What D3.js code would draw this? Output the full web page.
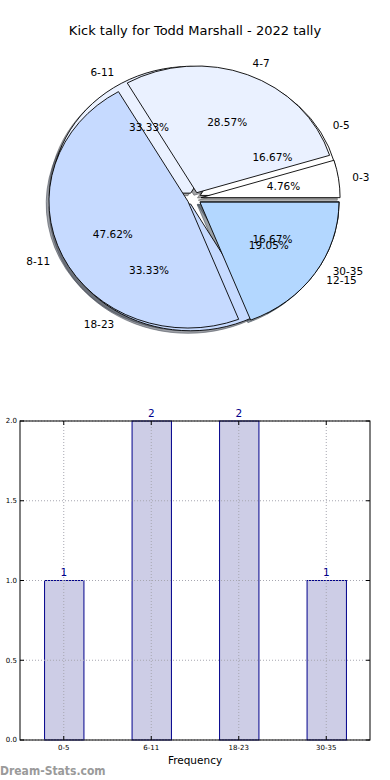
<!DOCTYPE html>
<html><head><meta charset="utf-8">
<script src="https://cdn.jsdelivr.net/npm/d3@7"></script>
<style>body{margin:0;background:#fff;} svg{display:block;font-family:"DejaVu Sans",sans-serif;}</style>
</head><body>
<script>
const title = "Kick tally for Todd Marshall - 2022 tally";
const pieCatsA = ["0-5", "6-11", "18-23", "30-35"];
const pieValsA = [1, 2, 2, 1];
const pieCatsB = ["0-3", "4-7", "8-11", "12-15"];
const pieValsB = [1, 6, 10, 4];
const pieColors = ["#ffffff", "#eaf1ff", "#c6daff", "#b3d7ff"];
const barCats = ["0-5", "6-11", "18-23", "30-35"];
const barVals = [1, 2, 2, 1];
const yTicks = [0, 0.5, 1.0, 1.5, 2.0];
const xLabel = "Frequency";
const watermark = "Dream-Stats.com";

const W = 390, H = 780;
const svg = d3.select("body").append("svg").attr("width", W).attr("height", H);
svg.append("rect").attr("width", W).attr("height", H).attr("fill", "#fff");

svg.append("text").attr("x", 195).attr("y", 34.5).attr("text-anchor", "middle")
  .attr("font-size", 13).attr("fill", "#000").text(title);

// ---------- pie (two overlaid pies, matplotlib style) ----------
const cx = 194.2, cy = 198.6, rx = 139, ry = 126.7, explode = 0.05, shadowOff = 0.02;
const pie = d3.pie().sort(null).startAngle(Math.PI / 2).endAngle(Math.PI / 2 - 2 * Math.PI);
const arc = d3.arc().innerRadius(0).outerRadius(1);

function prep(vals, cats) {
  const tot = d3.sum(vals);
  return pie(vals).map((d, i) => {
    const mid = (d.startAngle + d.endAngle) / 2;
    const phi = Math.PI / 2 - mid;
    return Object.assign({}, d, {
      cat: cats[i], color: pieColors[i % pieColors.length], phi,
      ox: explode * Math.cos(phi), oy: -explode * Math.sin(phi),
      pct: d.value / tot * 100
    });
  });
}
const A = prep(pieValsA, pieCatsA);
const B = prep(pieValsB, pieCatsB);
const gPie = svg.append("g");

function shadows(data) {
  gPie.selectAll(null).data(data).enter().append("path")
    .attr("d", arc)
    .attr("transform", d => `translate(${cx + (d.ox - shadowOff) * rx},${cy + (d.oy + shadowOff) * ry}) scale(${rx},${ry})`)
    .attr("fill", d => { const c = d3.rgb(d.color); return d3.rgb(c.r * 0.3, c.g * 0.3, c.b * 0.3); })
    .attr("stroke", d => { const c = d3.rgb(d.color); return d3.rgb(c.r * 0.3, c.g * 0.3, c.b * 0.3); })
    .attr("fill-opacity", 0.5).attr("stroke-opacity", 0.5)
    .attr("stroke-width", 1).attr("vector-effect", "non-scaling-stroke");
}
function wedges(data) {
  gPie.selectAll(null).data(data).enter().append("path")
    .attr("d", arc)
    .attr("transform", d => `translate(${cx + d.ox * rx},${cy + d.oy * ry}) scale(${rx},${ry})`)
    .attr("fill", d => d.color).attr("stroke", "#000")
    .attr("stroke-width", 0.9).attr("vector-effect", "non-scaling-stroke");
}
function labels(data) {
  gPie.selectAll(null).data(data).enter().append("text")
    .attr("x", d => cx + (d.ox + 1.1 * Math.cos(d.phi)) * rx)
    .attr("y", d => cy + (d.oy - 1.1 * Math.sin(d.phi)) * ry)
    .attr("dy", "0.35em")
    .attr("text-anchor", d => Math.cos(d.phi) > 0 ? "start" : "end")
    .attr("font-size", 10.5).attr("fill", "#000").text(d => d.cat);
  gPie.selectAll(null).data(data).enter().append("text")
    .attr("x", d => cx + (d.ox + 0.6 * Math.cos(d.phi)) * rx)
    .attr("y", d => cy + (d.oy - 0.6 * Math.sin(d.phi)) * ry)
    .attr("dy", "0.35em").attr("text-anchor", "middle")
    .attr("font-size", 10.5).attr("fill", "#000").text(d => d.pct.toFixed(2) + "%");
}
shadows(A); shadows(B);
wedges(A); wedges(B);
labels(A); labels(B);

// ---------- bar chart ----------
const bx0 = 20, bx1 = 370, by0 = 421, by1 = 740;
const x = d3.scaleBand().domain(barCats).range([bx0, bx1]).paddingInner(0.55).paddingOuter(0.275);
const y = d3.scaleLinear().domain([0, 2]).range([by1, by0]);
const gBar = svg.append("g");

// bars
gBar.selectAll(null).data(barVals).enter().append("rect")
  .attr("x", (d, i) => x(barCats[i]) + 0.5)
  .attr("y", d => y(d))
  .attr("width", x.bandwidth())
  .attr("height", d => y(0) - y(d))
  .attr("fill", "#cdcde6").attr("stroke", "#00008b").attr("stroke-width", 1);

// grid (drawn above bars, matplotlib style)
gBar.selectAll(null).data(barCats).enter().append("line")
  .attr("x1", d => x(d) + x.bandwidth() / 2).attr("x2", d => x(d) + x.bandwidth() / 2)
  .attr("y1", by0).attr("y2", by1)
  .attr("stroke", "#a6a6b0").attr("stroke-width", 1).attr("stroke-dasharray", "1,2");
gBar.selectAll(null).data(yTicks).enter().append("line")
  .attr("x1", bx0).attr("x2", bx1).attr("y1", d => y(d)).attr("y2", d => y(d))
  .attr("stroke", "#a6a6b0").attr("stroke-width", 1).attr("stroke-dasharray", "1,2");

// value labels
gBar.selectAll(null).data(barVals).enter().append("text")
  .attr("x", (d, i) => x(barCats[i]) + x.bandwidth() / 2)
  .attr("y", d => y(d) - 4.5)
  .attr("text-anchor", "middle").attr("font-size", 10.5).attr("fill", "#00008b")
  .text(d => d);

// frame
gBar.append("rect").attr("x", bx0).attr("y", by0).attr("width", bx1 - bx0).attr("height", by1 - by0)
  .attr("fill", "none").attr("stroke", "#000").attr("stroke-width", 1);

// ticks (inward, all sides)
const tl = 4;
yTicks.forEach(t => {
  gBar.append("line").attr("x1", bx0).attr("x2", bx0 + tl).attr("y1", y(t)).attr("y2", y(t)).attr("stroke", "#000");
  gBar.append("line").attr("x1", bx1 - tl).attr("x2", bx1).attr("y1", y(t)).attr("y2", y(t)).attr("stroke", "#000");
});
barCats.forEach(c => {
  const xc = x(c) + x.bandwidth() / 2;
  gBar.append("line").attr("x1", xc).attr("x2", xc).attr("y1", by1 - tl).attr("y2", by1).attr("stroke", "#000");
  gBar.append("line").attr("x1", xc).attr("x2", xc).attr("y1", by0).attr("y2", by0 + tl).attr("stroke", "#000");
});

// tick labels
gBar.selectAll(null).data(yTicks).enter().append("text")
  .attr("x", bx0 - 3).attr("y", d => y(d)).attr("dy", "0.35em")
  .attr("text-anchor", "end").attr("font-size", 7).attr("fill", "#000")
  .text(d => d.toFixed(1));
gBar.selectAll(null).data(barCats).enter().append("text")
  .attr("x", d => x(d) + x.bandwidth() / 2).attr("y", by1 + 8).attr("dy", "0.35em")
  .attr("text-anchor", "middle").attr("font-size", 7).attr("fill", "#000")
  .text(d => d);

svg.append("text").attr("x", (bx0 + bx1) / 2).attr("y", 764)
  .attr("text-anchor", "middle").attr("font-size", 10.5).attr("fill", "#000").text(xLabel);

svg.append("text").attr("x", 0).attr("y", 775)
  .attr("font-family", "'DejaVu Sans Condensed','DejaVu Sans',sans-serif")
  .attr("font-weight", "bold").attr("font-size", 12).attr("fill", "#9a9a9a").text(watermark);
</script>
</body></html>
